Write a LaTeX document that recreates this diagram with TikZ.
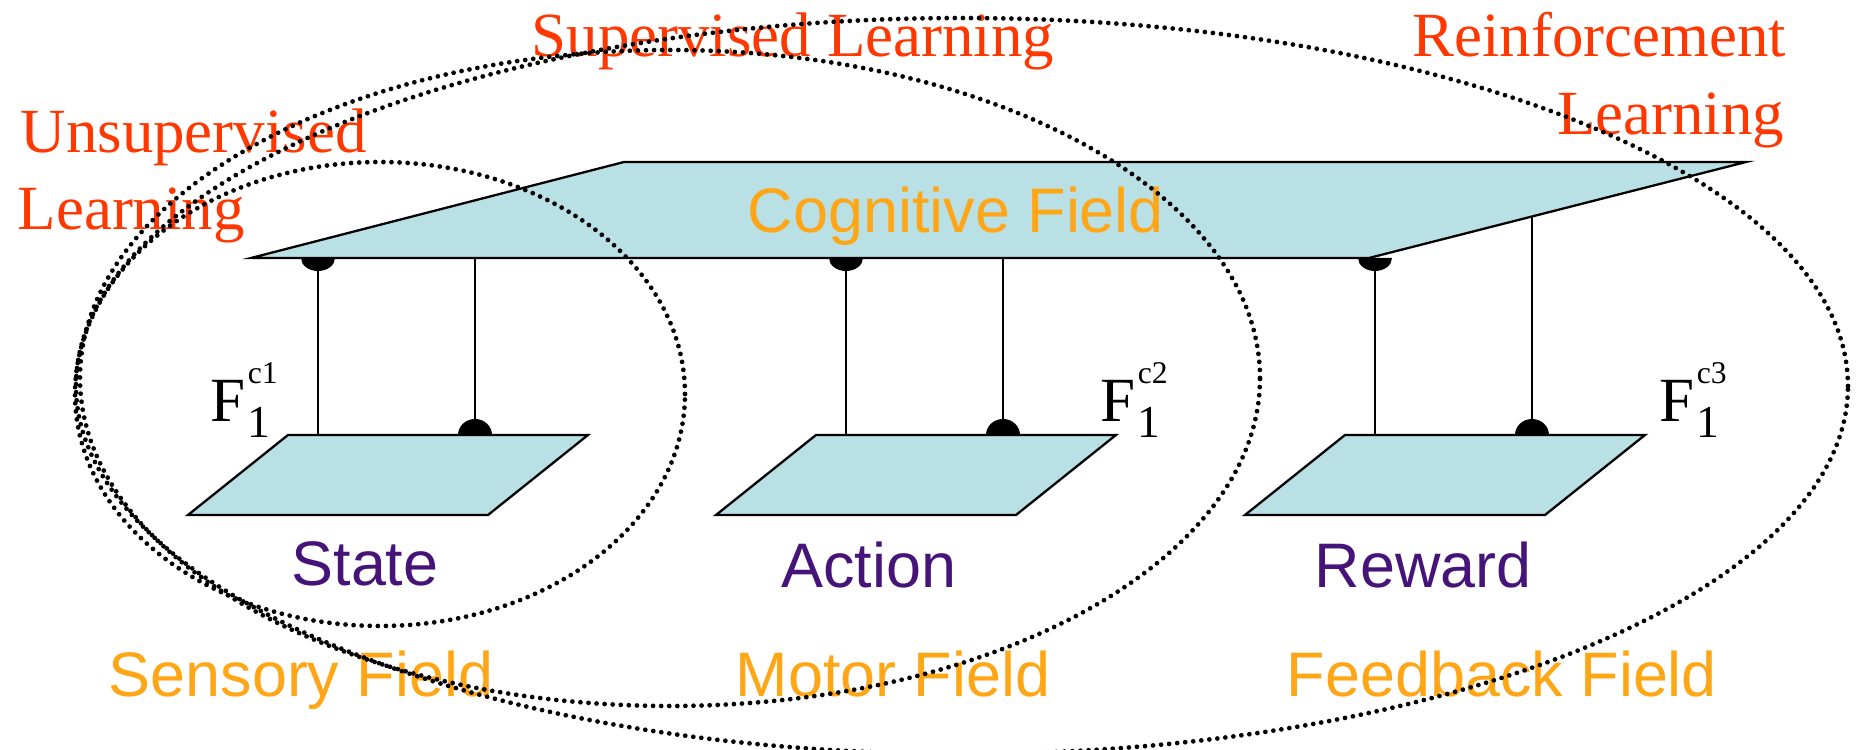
\documentclass[tikz,border=0pt]{standalone}
\usepackage{fontspec}
\setmainfont{Liberation Sans}
\newfontfamily\seriffont{Liberation Serif}
\usetikzlibrary{positioning,calc}

% F with subscript 1 and the small index c#1
\newcommand{\fieldsym}[1]{F\kern0.6pt\rlap{\raisebox{10.9pt}{\fontsize{9}{10}\selectfont c#1}}\raisebox{-4.3pt}{\fontsize{13}{14}\selectfont 1}}

\begin{document}
\begin{tikzpicture}[x=0.1mm,y=-0.1mm]
\definecolor{field area}{RGB}{185,224,228}
\definecolor{field name}{RGB}{255,166,22}
\definecolor{learn name}{RGB}{255,55,0}
\definecolor{signal name}{RGB}{70,20,120}
\tikzset{
     field/.style={fill=field area, draw=black, line width=0.65pt},
     wire/.style={draw=black, line width=0.5pt},
     knob/.style={fill=black},
     region/.style={draw=black, line width=1.35pt, line cap=round, dash pattern=on 0pt off 2.3pt},
     big/.style={inner sep=0pt, font=\fontsize{17.9}{21.9}\selectfont},
     fieldlabel/.style={big, text=field name},
     signal/.style={big, text=signal name},
     learning/.style={big, text=learn name, font=\fontsize{17.9}{21.9}\selectfont\seriffont},
     symbol/.style={big, font=\fontsize{17.9}{21.9}\selectfont\seriffont}}

\useasboundingbox (0,0) rectangle (1856,750);
\clip (0,0) rectangle (1856,750);

% The cognitive field
\coordinate (cog sw) at (251,258);
\coordinate (cog se) at (1369,258);
\coordinate (cog ne) at (1746,162);
\coordinate (cog nw) at (624,162);
\draw [field] (cog sw) -- (cog se) -- (cog ne) -- (cog nw) -- cycle;
\node (cognitive) [fieldlabel, anchor=base] at (956,233) {Cognitive Field};

% The three lower fields and where the wires meet them
\foreach \name/\x/\top in {state/188/258, action/716/258, reward/1245/216.5}{
  \draw [field] (\x,515) -- ++(300,0) -- ++(100,-80) -- ++(-300,0) -- cycle;
  \coordinate (\name in) at (\x+130,435);
  \coordinate (\name out) at (\x+287,435);
  \coordinate (cog \name in) at (\x+130,258);
  \coordinate (cog \name out) at (\x+287,\top);
}

% The wires and their knobs
\foreach \name in {state, action, reward}{
  \draw [wire] (cog \name in) -- (\name in);
  \draw [wire] (cog \name out) -- (\name out);
  \fill [knob] ([xshift=-1.7mm]cog \name in) arc[start angle=180, end angle=360, x radius=1.7mm, y radius=1.3mm] -- cycle;
  \fill [knob] ([xshift=-1.7mm]\name out) arc[start angle=180, end angle=0, x radius=1.7mm, y radius=1.6mm] -- cycle;
}

% F labels
\node (f1) [symbol, anchor=base west] at (210,422) {\fieldsym{1}};
\node (f2) [symbol, anchor=base west] at (1100,422) {\fieldsym{2}};
\node (f3) [symbol, anchor=base west] at (1659,422) {\fieldsym{3}};

% Names of the fields
\node (state) [signal, anchor=base] at (365,586) {State};
\node (action) [signal, anchor=base] at (869,587) {Action};
\node (reward) [signal, anchor=base] at (1423,587) {Reward};
\node (sensory) [fieldlabel, anchor=base] at (301,697) {Sensory Field};
\node (motor) [fieldlabel, anchor=base] at (893,697) {Motor Field};
\node (feedback) [fieldlabel, anchor=base] at (1502,697) {Feedback Field};

% The kinds of learning
\node (unsup) [learning, anchor=base west] at (20,153) {Unsupervised};
\node (unsup2) [learning, anchor=base west] at ([shift={(-3,77)}]unsup.base west) {Learning};
\node (sup) [learning, anchor=base west] at (531,57) {Supervised Learning};
\node (reinf) [learning, anchor=base east] at (1787,57) {Reinforcement};
\node (reinf2) [learning, anchor=base east] at ([shift={(-2,78)}]reinf.base east) {Learning};

% The learning regions
\draw [region] (380,394) ellipse [x radius=30.5mm, y radius=23.2mm];
\draw [region] (670,378) ellipse [x radius=59mm, y radius=32.8mm];
\draw [region] (962,386) ellipse [x radius=88.6mm, y radius=36.8mm];
\end{tikzpicture}
\end{document}
